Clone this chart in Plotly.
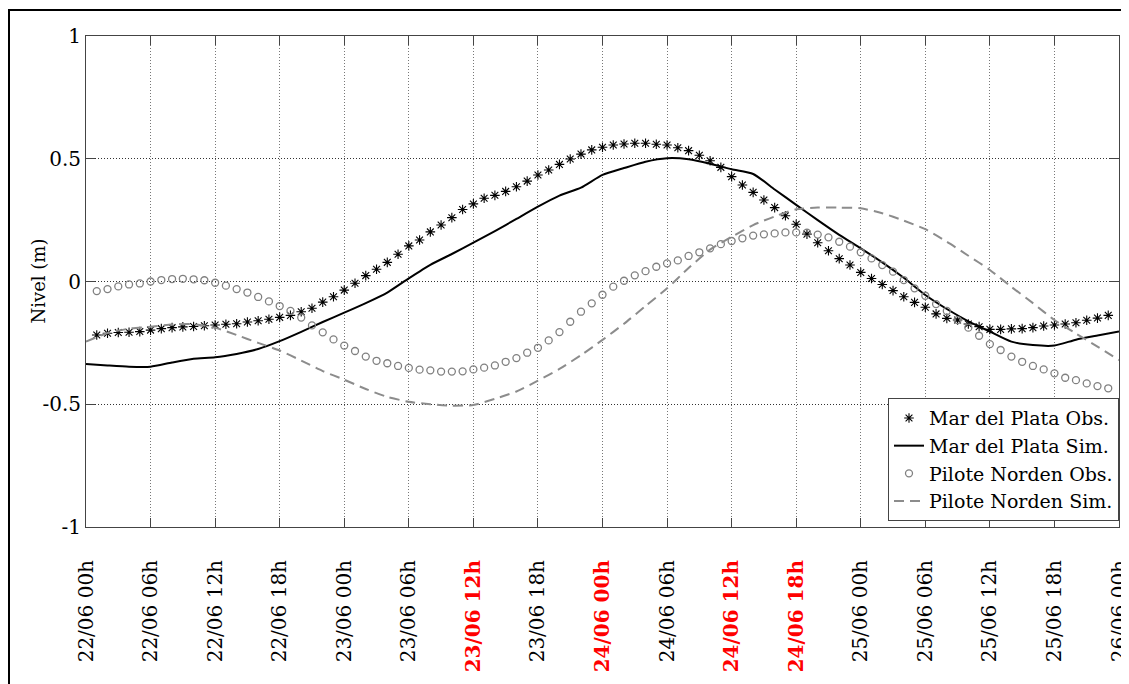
import plotly.graph_objects as go

# ---- data ----
tick_hours = list(range(0, 97, 6))
tick_labels = ["22/06 00h", "22/06 06h", "22/06 12h", "22/06 18h",
               "23/06 00h", "23/06 06h", "23/06 12h", "23/06 18h",
               "24/06 00h", "24/06 06h", "24/06 12h", "24/06 18h",
               "25/06 00h", "25/06 06h", "25/06 12h", "25/06 18h",
               "26/06 00h"]
red_labels = ["23/06 12h", "24/06 00h", "24/06 12h", "24/06 18h"]

obs_hours = list(range(1, 96))
mdp_obs = [-0.218, -0.211, -0.208, -0.207, -0.204, -0.198, -0.192, -0.188, -0.185, -0.183, -0.180, -0.177,
           -0.174, -0.172, -0.165, -0.160, -0.154, -0.146, -0.138, -0.123, -0.109, -0.084, -0.062, -0.035,
           -0.007, 0.024, 0.050, 0.078, 0.111, 0.145, 0.169, 0.202, 0.230, 0.260, 0.293, 0.316,
           0.339, 0.351, 0.367, 0.386, 0.409, 0.434, 0.454, 0.477, 0.499, 0.519, 0.536, 0.547,
           0.556, 0.560, 0.563, 0.563, 0.559, 0.556, 0.545, 0.533, 0.514, 0.492, 0.465, 0.427,
           0.393, 0.363, 0.332, 0.301, 0.268, 0.233, 0.193, 0.158, 0.125, 0.093, 0.067, 0.037,
           0.012, -0.012, -0.037, -0.062, -0.085, -0.105, -0.132, -0.150, -0.157, -0.173, -0.184, -0.195,
           -0.195, -0.193, -0.192, -0.188, -0.181, -0.177, -0.173, -0.168, -0.158, -0.149, -0.138]
pn_obs = [-0.039, -0.031, -0.020, -0.012, -0.008, 0.000, 0.006, 0.010, 0.011, 0.009, 0.005, -0.005,
          -0.017, -0.031, -0.045, -0.063, -0.081, -0.100, -0.120, -0.147, -0.179, -0.207, -0.236, -0.261,
          -0.283, -0.306, -0.323, -0.333, -0.344, -0.352, -0.359, -0.362, -0.367, -0.367, -0.366, -0.358,
          -0.351, -0.342, -0.327, -0.312, -0.290, -0.270, -0.240, -0.206, -0.164, -0.123, -0.089, -0.054,
          -0.021, 0.003, 0.025, 0.042, 0.060, 0.074, 0.086, 0.104, 0.119, 0.135, 0.152, 0.165,
          0.176, 0.187, 0.192, 0.196, 0.200, 0.200, 0.199, 0.191, 0.180, 0.162, 0.142, 0.119,
          0.094, 0.067, 0.040, 0.006, -0.028, -0.058, -0.092, -0.120, -0.157, -0.188, -0.221, -0.255,
          -0.279, -0.306, -0.327, -0.344, -0.358, -0.374, -0.392, -0.402, -0.415, -0.426, -0.435]

sim_hours = list(range(0, 97, 2))
mdp_sim = [-0.336, -0.342, -0.347, -0.347, -0.330, -0.315, -0.309, -0.295, -0.275, -0.243,
           -0.205, -0.165, -0.127, -0.088, -0.045, 0.013, 0.068, 0.112, 0.158, 0.205,
           0.255, 0.305, 0.350, 0.382, 0.434, 0.462, 0.488, 0.502, 0.498, 0.480,
           0.457, 0.438, 0.375, 0.312, 0.250, 0.190, 0.135, 0.078, 0.015, -0.055,
           -0.112, -0.162, -0.204, -0.245, -0.259, -0.261, -0.237, -0.220, -0.204]
pn_sim = [-0.245, -0.210, -0.192, -0.184, -0.175, -0.174, -0.188, -0.218, -0.250, -0.281,
          -0.322, -0.365, -0.400, -0.438, -0.470, -0.490, -0.500, -0.506, -0.503, -0.478,
          -0.448, -0.404, -0.356, -0.300, -0.238, -0.172, -0.100, -0.028, 0.055, 0.130,
          0.182, 0.230, 0.265, 0.294, 0.301, 0.301, 0.298, 0.278, 0.248, 0.213,
          0.162, 0.105, 0.047, -0.022, -0.088, -0.157, -0.212, -0.265, -0.320]

y_ticks = [-1, -0.5, 0, 0.5, 1]
y_tick_labels = ["-1", "-0.5", "0", "0.5", "1"]

# ---- figure ----
FONT = "DejaVu Serif"
fig = go.Figure()
fig.add_trace(go.Scatter(x=obs_hours, y=mdp_obs, mode="markers", name="Mar del Plata Obs.",
                         marker=dict(symbol="asterisk-open", size=8, color="black",
                                     line=dict(color="black", width=1.1))))
fig.add_trace(go.Scatter(x=sim_hours, y=mdp_sim, mode="lines", name="Mar del Plata Sim.",
                         line=dict(color="black", width=2, shape="spline", smoothing=0.6)))
fig.add_trace(go.Scatter(x=obs_hours, y=pn_obs, mode="markers", name="Pilote Norden Obs.",
                         marker=dict(symbol="circle-open", size=7, color="#808080",
                                     line=dict(color="#808080", width=1.3))))
fig.add_trace(go.Scatter(x=sim_hours, y=pn_sim, mode="lines", name="Pilote Norden Sim.",
                         line=dict(color="#8c8c8c", width=2, dash="10px,6px", shape="spline", smoothing=0.6)))

ticktext = []
for lab in tick_labels:
    if lab in red_labels:
        ticktext.append(f"<span style='color:red'><b>{lab}</b></span>")
    else:
        ticktext.append(lab)

W, H = 1121, 676
ML, MR, MT, MB = 78, 10, 28, 157
pw = W - ML - MR
ph = H - MT - MB

fig.update_layout(
    width=W, height=H,
    margin=dict(l=ML, r=MR, t=MT, b=MB, autoexpand=False),
    paper_bgcolor="white", plot_bgcolor="white",
    font=dict(family=FONT, size=18, color="black"),
    showlegend=True,
    legend=dict(x=1.0, xanchor="right", y=0.012, yanchor="bottom",
                bgcolor="white", bordercolor="#444", borderwidth=1,
                font=dict(family=FONT, size=19, color="black"),
                tracegroupgap=0, itemwidth=30),
    xaxis=dict(range=[0, 96], tickvals=tick_hours, ticktext=ticktext, tickangle=-90,
               showgrid=True, gridcolor="#777", griddash="1px,2px", gridwidth=1,
               showline=True, linecolor="#444", linewidth=1, mirror="ticks",
               ticks="inside", ticklen=9, tickcolor="#444", zeroline=False,
               ticklabeloverflow="allow", ticklabelstandoff=24,
               tickfont=dict(family=FONT, size=20, color="black")),
    yaxis=dict(range=[-1, 1], tickvals=y_ticks, ticktext=y_tick_labels,
               showgrid=True, gridcolor="#333", griddash="1px,2px", gridwidth=1,
               showline=True, linecolor="#444", linewidth=1, mirror="ticks",
               ticks="inside", ticklen=9, tickcolor="#444", zeroline=False,
               tickfont=dict(family=FONT, size=20, color="black")),
    annotations=[dict(text="Nivel (m)", xref="paper", yref="paper",
                      x=(30 - ML) / pw, y=0.5, xanchor="center", yanchor="middle",
                      textangle=-90, showarrow=False,
                      font=dict(family=FONT, size=18, color="black"))],
    shapes=[dict(type="rect", xref="paper", yref="paper",
                 x0=(1 - ML) / pw, x1=1.2, y0=-0.6, y1=(H - MB - 2) / ph,
                 line=dict(color="black", width=2), fillcolor="rgba(0,0,0,0)", layer="above")],
)

fig.write_html("out.html")
